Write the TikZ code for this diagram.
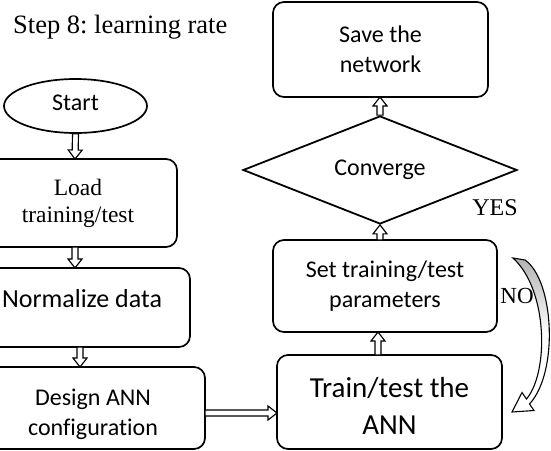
\documentclass[tikz,border=0pt]{standalone}
\usepackage{fontspec}
\setmainfont{Liberation Serif}
\newfontfamily\carlito[Ligatures=NoCommon]{Carlito}
\usetikzlibrary{shapes.geometric,calc}
\frenchspacing

\tikzset{
  box/.style={draw, line width=1.7pt, rounded corners=11pt, align=center,
    inner sep=0pt, outer sep=0pt, font=\carlito\fontsize{24}{30}\selectfont},
  txt/.style={align=center, inner sep=0pt, font=\carlito\fontsize{24}{30}\selectfont},
  % hollow block arrow drawn between two points
  blockarrow/.style={draw, line width=1.15pt, fill=white, line join=miter,
    to path={let \p1=(\tikztostart), \p2=(\tikztotarget),
      \n1={atan2(\y2-\y1,\x2-\x1)}, \n2={veclen(\x2-\x1,\y2-\y1)} in
      ($(\p1)+(\n1+90:3pt)$)
      -- ($(\p1)+(\n1:\n2-9pt)+(\n1+90:3pt)$)
      -- ($(\p1)+(\n1:\n2-9pt)+(\n1+90:7pt)$)
      -- (\p2)
      -- ($(\p1)+(\n1:\n2-9pt)+(\n1-90:7pt)$)
      -- ($(\p1)+(\n1:\n2-9pt)+(\n1-90:3pt)$)
      -- ($(\p1)+(\n1-90:3pt)$) -- cycle}},
}

\begin{document}
\begin{tikzpicture}[x=1pt,y=-1pt]
\useasboundingbox (0,0) rectangle (551,450);

% title
\node[anchor=base west, inner sep=0pt, font=\fontsize{26.5}{30}\selectfont]
  (title) at (13,33) {Step 8: learning rate};

% left column
\node[draw, ellipse, line width=1.7pt, minimum width=143pt, minimum height=54pt,
  inner sep=0pt, text depth=7pt, font=\carlito\fontsize{24}{30}\selectfont]
  (start) at (75.5,106) {Start};
\node[box, minimum width=198pt, minimum height=88pt,
  font=\rmfamily\fontsize{23.5}{27}\selectfont] (load) at (78,203) {Load\\training/test};
\node[box, minimum width=216pt, minimum height=79pt] (norm) at (82,307.5) {};
\node[txt, font=\carlito\fontsize{26}{30}\selectfont] (normtxt) at (82,299) {Normalize data};
\node[box, minimum width=224pt, minimum height=82pt] (design) at (93,408) {};
\node[txt] (designtxt) at (93,414) {Design ANN\\configuration};

% right column
\node[box, minimum width=225pt, minimum height=94pt] (train) at (389.5,402) {};
\node[txt, font=\carlito\fontsize{29}{37}\selectfont] (traintxt) at (389.5,406) {Train/test the\\ANN};
\node[box, minimum width=224pt, minimum height=92pt] (set) at (385,286) {Set training/test\\parameters};
\node[draw, diamond, shape aspect=2.5, line width=1.8pt, minimum width=274pt,
  minimum height=108pt, inner sep=0pt, font=\carlito\fontsize{24}{30}\selectfont]
  (conv) at (380,170) {Converge};
\node[box, minimum width=215pt, minimum height=95pt] (save) at (380.5,49.5) {Save the\\network};

% labels
\node[anchor=base, inner sep=0pt, font=\fontsize{24}{24}\selectfont] (yes) at (495,215) {YES};
\node[anchor=base, inner sep=0pt, font=\fontsize{23}{23}\selectfont] (no) at (517,303) {NO};

% connectors
\coordinate (a1) at ([xshift=-0.5pt]start.south);
\coordinate (a2) at ([xshift=-3pt]load.south);
\coordinate (a3) at ([xshift=-2pt]norm.south);
\coordinate (a4) at ([yshift=-5pt]design.east);
\coordinate (a5) at ([xshift=-7pt]set.south);
\draw[blockarrow] (start.south) to (a1 |- load.north);
\draw[blockarrow] (a2) to (a2 |- norm.north);
\draw[blockarrow] (a3) to (a3 |- design.north);
\draw[blockarrow] (a4) to (a4 -| train.west);
\draw[blockarrow] (a5 |- train.north) to (a5);
\draw[blockarrow] (set.north -| conv.south) to (conv.south);
\draw[blockarrow] (conv.north) to (conv.north |- save.south);

% curved loop-back arrow
\draw[line width=1.1pt, line join=miter, top color=black!30, bottom color=white, middle color=white]
  (513,258) -- (525,260)
  .. controls (554,280) and (559,372) .. (529.5,404)
  -- (534,410.5) -- (512,412) -- (522,392.5) -- (526.5,399)
  .. controls (549,372) and (548,290) .. (513,258) -- cycle;
\end{tikzpicture}
\end{document}
